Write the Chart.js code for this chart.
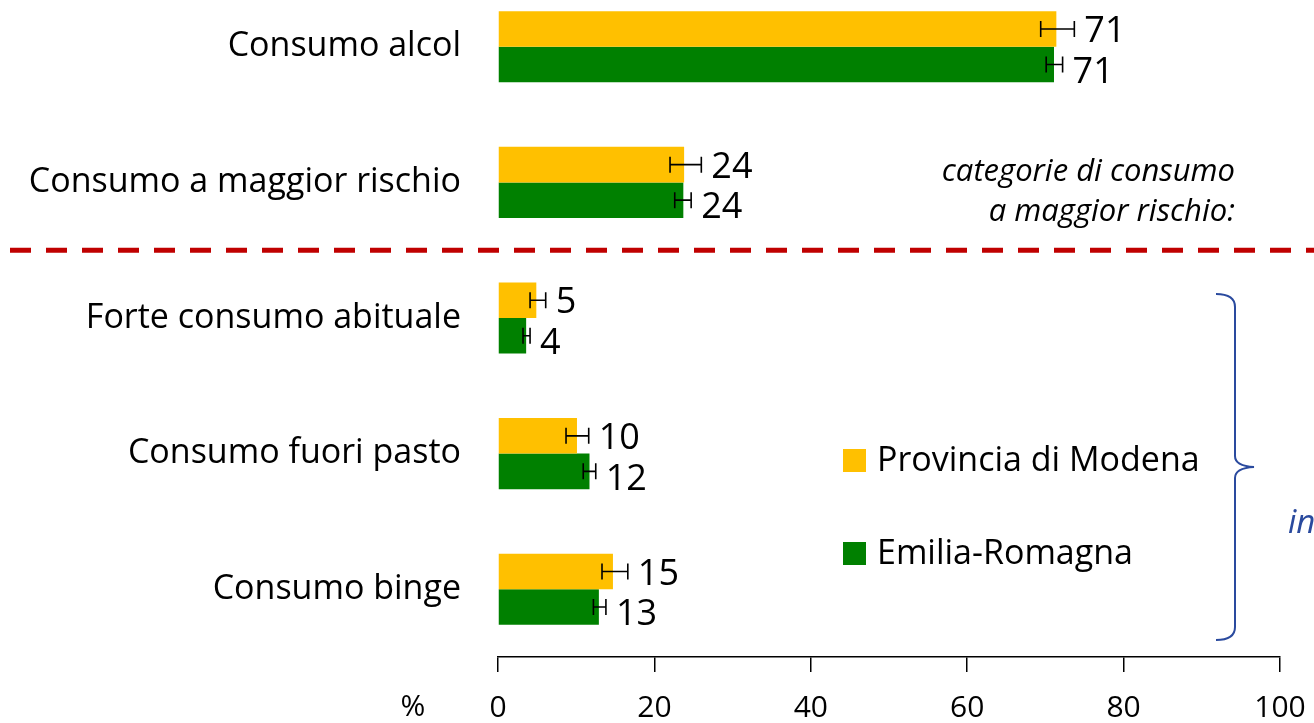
<!DOCTYPE html>
<html>
<head>
<meta charset="utf-8">
<script src="https://cdn.jsdelivr.net/npm/chart.js@4"></script>
<style>
    html, body { margin: 0; padding: 0; background: #ffffff; overflow: hidden; }
    #wrap { position: absolute; left: 0; top: -21px; width: 1314px; height: 744px; }
</style>
</head>
<body>
<div id="wrap"><canvas id="alcol-chart"></canvas></div>
<script>
const categories = ["Consumo alcol", "Consumo a maggior rischio", "Forte consumo abituale", "Consumo fuori pasto", "Consumo binge"]
const modena = [71.4, 23.8, 4.9, 10.1, 14.7]
const modenaLow = [69.4, 22.0, 4.1, 8.7, 13.3]
const modenaHigh = [73.7, 26.0, 6.1, 11.6, 16.6]
const emilia = [71.1, 23.7, 3.6, 11.7, 12.9]
const emiliaLow = [70.1, 22.6, 3.2, 10.9, 12.2]
const emiliaHigh = [72.2, 24.7, 4.1, 12.5, 13.8]
const xTicks = [0, 20, 40, 60, 80, 100]

const FONT = "'Open Sans', sans-serif"
const TOP = 21 // canvas is shifted up by this many px

const extras = {
    id: 'extras',
    afterDatasetsDraw(chart) {
        const ctx = chart.ctx
        const x = chart.scales.x
        const errs = [[modenaLow, modenaHigh], [emiliaLow, emiliaHigh]]
        const labelShift = [3, 8]
        ctx.save()
        chart.data.datasets.forEach((ds, i) => {
            const meta = chart.getDatasetMeta(i)
            meta.data.forEach((bar, j) => {
                const cy = bar.y
                const x0 = x.getPixelForValue(errs[i][0][j])
                const x1 = x.getPixelForValue(errs[i][1][j])
                ctx.strokeStyle = '#000'
                ctx.lineWidth = 1.6
                ctx.beginPath()
                ctx.moveTo(x0, cy); ctx.lineTo(x1, cy)
                ctx.moveTo(x0, cy - 8); ctx.lineTo(x0, cy + 8)
                ctx.moveTo(x1, cy - 8); ctx.lineTo(x1, cy + 8)
                ctx.stroke()
                ctx.fillStyle = '#000'
                ctx.font = '36px ' + FONT
                ctx.textAlign = 'left'
                ctx.textBaseline = 'middle'
                ctx.fillText(Math.round(ds.data[j]), x1 + 10, cy + labelShift[i])
            })
        })
        ctx.restore()
    },
    afterDraw(chart) {
        const ctx = chart.ctx
        const y = chart.scales.y
        ctx.save()
        // dashed separator
        const sepY = y.getPixelForValue(1.5)
        ctx.strokeStyle = '#C00000'
        ctx.lineWidth = 5
        ctx.setLineDash([21, 15])
        ctx.beginPath()
        ctx.moveTo(10, sepY); ctx.lineTo(1314, sepY)
        ctx.stroke()
        ctx.setLineDash([])

        // note
        ctx.fillStyle = '#000'
        ctx.font = 'italic 31px ' + FONT
        ctx.textAlign = 'right'
        ctx.textBaseline = 'middle'
        ctx.fillText('categorie di consumo', 1235, 172 + TOP)
        ctx.fillText('a maggior rischio:', 1235, 212 + TOP)

        // legend
        const leg = [[0, 461], [1, 554]]
        leg.forEach(([i, ly]) => {
            const ds = chart.data.datasets[i]
            ctx.fillStyle = ds.backgroundColor
            ctx.fillRect(843, ly - 12 + TOP, 23, 23)
            ctx.fillStyle = '#000'
            ctx.font = '34px ' + FONT
            ctx.textAlign = 'left'
            ctx.fillText(ds.label, 877, ly + TOP)
        })

        // brace
        ctx.strokeStyle = '#2A4A9E'
        ctx.lineWidth = 2
        ctx.beginPath()
        ctx.moveTo(1216, 294 + TOP)
        ctx.quadraticCurveTo(1235, 294 + TOP, 1235, 307 + TOP)
        ctx.lineTo(1235, 456 + TOP)
        ctx.quadraticCurveTo(1235, 466 + TOP, 1254, 467 + TOP)
        ctx.quadraticCurveTo(1235, 468 + TOP, 1235, 478 + TOP)
        ctx.lineTo(1235, 627 + TOP)
        ctx.quadraticCurveTo(1235, 640 + TOP, 1216, 640 + TOP)
        ctx.stroke()

        ctx.fillStyle = '#2A4A9E'
        ctx.font = 'italic 33px ' + FONT
        ctx.textAlign = 'left'
        ctx.fillText('in', 1288, 524 + TOP)

        // % unit
        ctx.fillStyle = '#000'
        ctx.font = '30px ' + FONT
        ctx.textAlign = 'center'
        ctx.fillText('%', 413, 707 + TOP)
        ctx.restore()
    }
}

new Chart(document.getElementById('alcol-chart'), {
    type: 'bar',
    data: {
        labels: categories,
        datasets: [
            {
                label: 'Provincia di Modena',
                backgroundColor: '#FFC000',
                data: modena
            },
            {
                label: 'Emilia-Romagna',
                backgroundColor: '#008000',
                data: emilia
            }
        ]
    },
    options: {
        indexAxis: 'y',
        responsive: true,
        maintainAspectRatio: false,
        animation: false,
        categoryPercentage: 0.524,
        barPercentage: 1.0,
        layout: {
            padding: { top: 0, right: 34, bottom: 0, left: 0 }
        },
        plugins: {
            legend: { display: false },
            tooltip: { enabled: false }
        },
        scales: {
            x: {
                min: 0,
                max: 100,
                afterBuildTicks: (scale) => {
                    scale.ticks = xTicks.map(v => ({ value: v }))
                },
                afterFit: (scale) => {
                    scale.height = 66
                    scale.paddingLeft = 0
                    scale.paddingRight = 0
                },
                grid: {
                    drawOnChartArea: false,
                    drawTicks: true,
                    tickLength: 15,
                    color: '#000',
                    lineWidth: 1.5
                },
                border: { display: true, color: '#000', width: 1.5 },
                ticks: {
                    color: '#000',
                    padding: 18,
                    maxRotation: 0,
                    font: { size: 30, family: FONT }
                }
            },
            y: {
                afterFit: (scale) => {
                    scale.width = 498
                    scale.paddingTop = 0
                    scale.paddingBottom = 0
                },
                grid: { display: false },
                border: { display: false },
                ticks: {
                    color: '#000',
                    padding: 29,
                    font: { size: 34, family: FONT }
                }
            }
        }
    },
    plugins: [extras]
})
</script>
</body>
</html>
